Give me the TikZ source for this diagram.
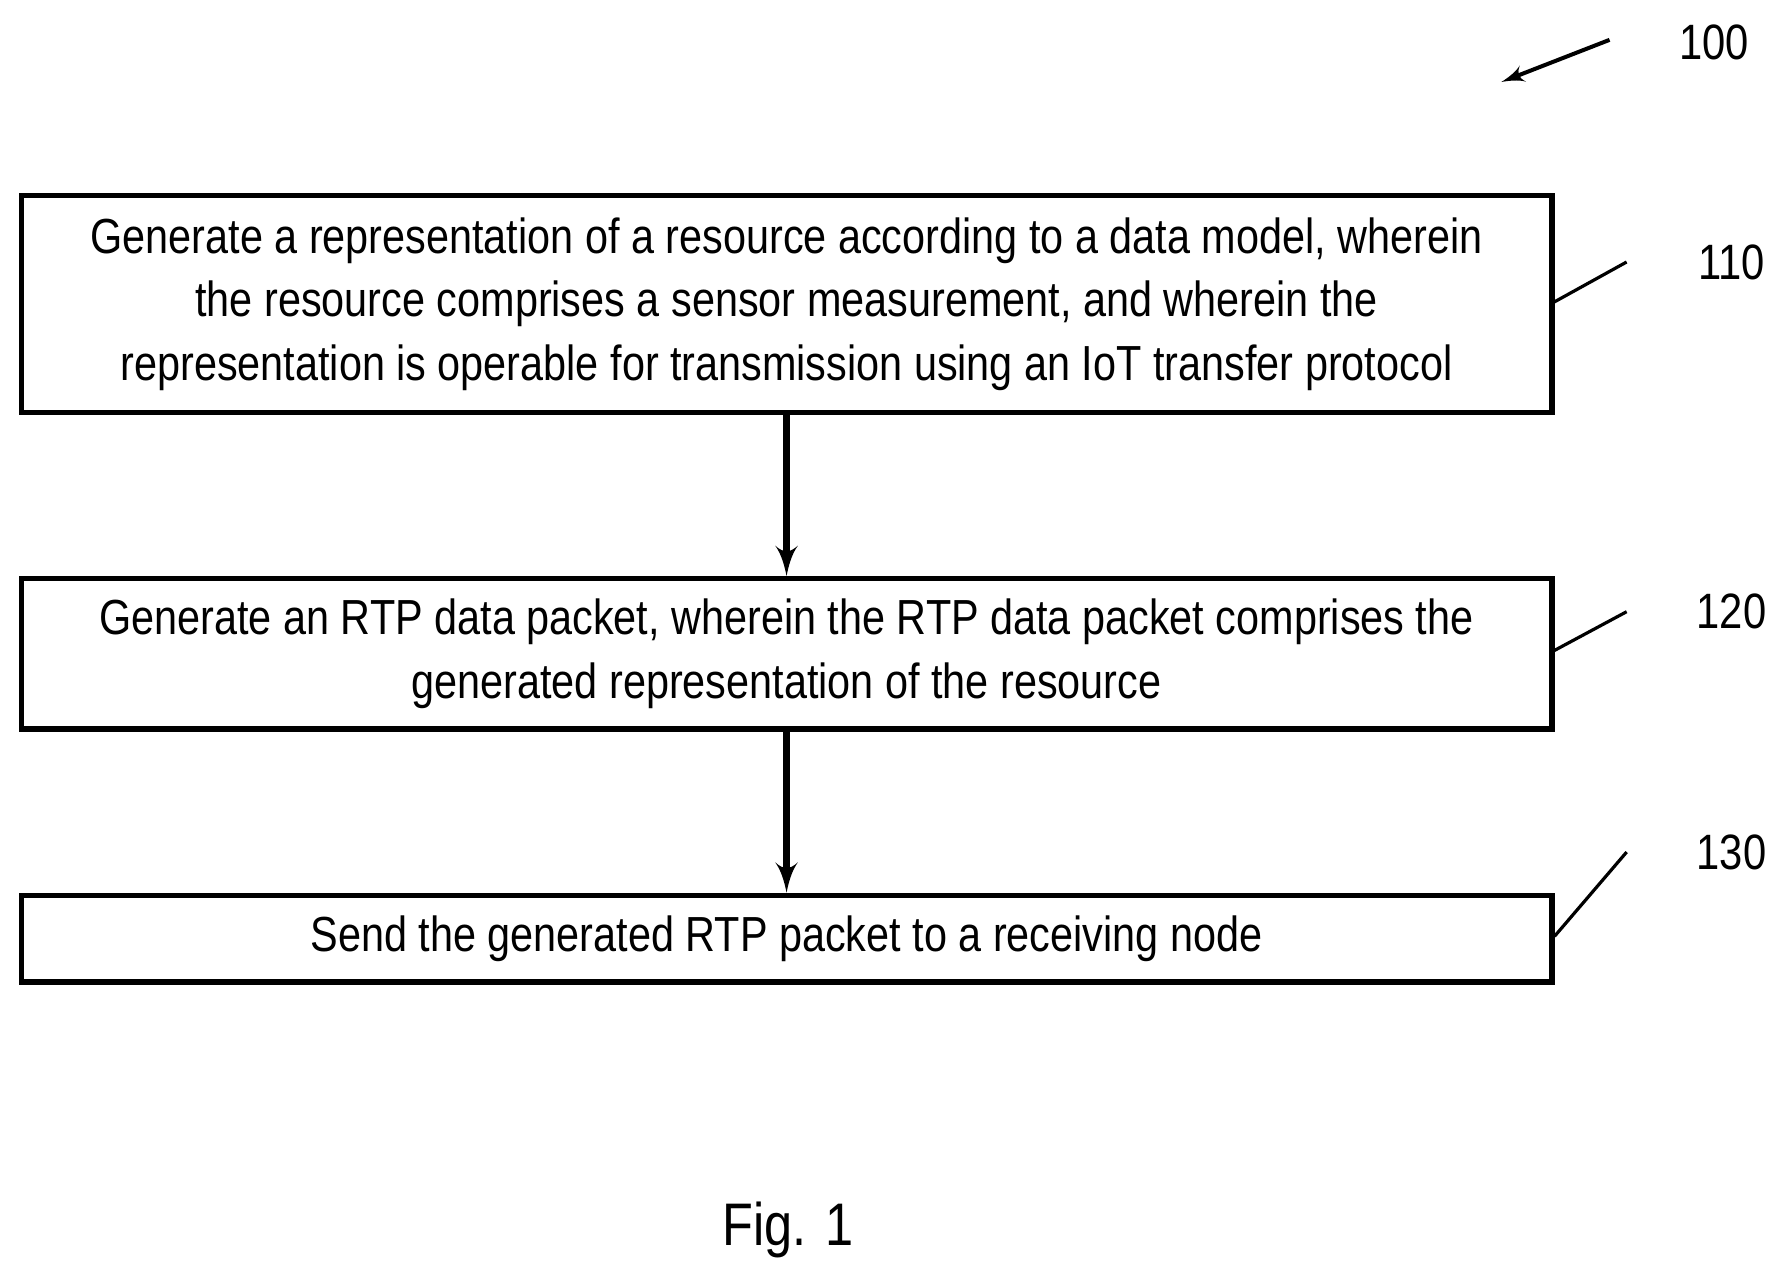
\documentclass[tikz,border=0pt]{standalone}
\usepackage{fontspec}
\setmainfont[FakeStretch=0.84]{Liberation Sans}
\usetikzlibrary{arrows,positioning}

\begin{document}
\begin{tikzpicture}[x=0.01cm, y=-0.01cm, auto]
    % Define styles
    \tikzstyle{stage} = [rectangle, draw, line width=1.3pt, minimum width=13.43cm,
        align=center, font=\fontsize{12.3}{15.9}\selectfont, inner sep=0pt]
    \tikzstyle{line} = [draw, line width=1.6pt, -latex']
    \tikzstyle{lead} = [draw, line width=0.8pt]
    \tikzstyle{ref} = [font=\fontsize{12.4}{15}\selectfont]

    \useasboundingbox (0,0) rectangle (1560,1125);

    % Place nodes
    \node [stage, minimum height=1.9cm] (gen) at (690.5,267)
        {Generate a representation of a resource according to a data model, wherein\\
        the resource comprises a sensor measurement, and wherein the\\
        representation is operable for transmission using an IoT transfer protocol};
    \node [stage, minimum height=1.32cm] (rtp) at (690.5,574)
        {Generate an RTP data packet, wherein the RTP data packet comprises the\\
        generated representation of the resource};
    \node [stage, minimum height=0.76cm] (send) at (690.5,824)
        {Send the generated RTP packet to a receiving node};

    \node [ref] (n100) at (1505,37) {100};
    \node [ref] (n110) at (1520,230) {110};
    \node [ref] (n120) at (1520,537) {120};
    \node [ref] (n130) at (1520,748) {130};
    \node [font=\fontsize{15}{18}\selectfont] (fig) at (692,1080) {Fig. 1};

    \coordinate (a100) at (1413,35);
    \coordinate (t100) at (1318,72);
    \coordinate (a110) at (1428,230);
    \coordinate (a120) at (1428,537);
    \coordinate (a130) at (1428,748);

    % Draw edges
    \path [line] (gen) -- (rtp);
    \path [line] (rtp) -- (send);
    \path [lead, line width=1pt, -latex'] (a100) -- (t100);
    \path [lead] (gen.east |- 0,265) -- (a110);
    \path [lead] (rtp.east |- 0,571) -- (a120);
    \path [lead] (send.east |- 0,822) -- (a130);
\end{tikzpicture}
\end{document}
